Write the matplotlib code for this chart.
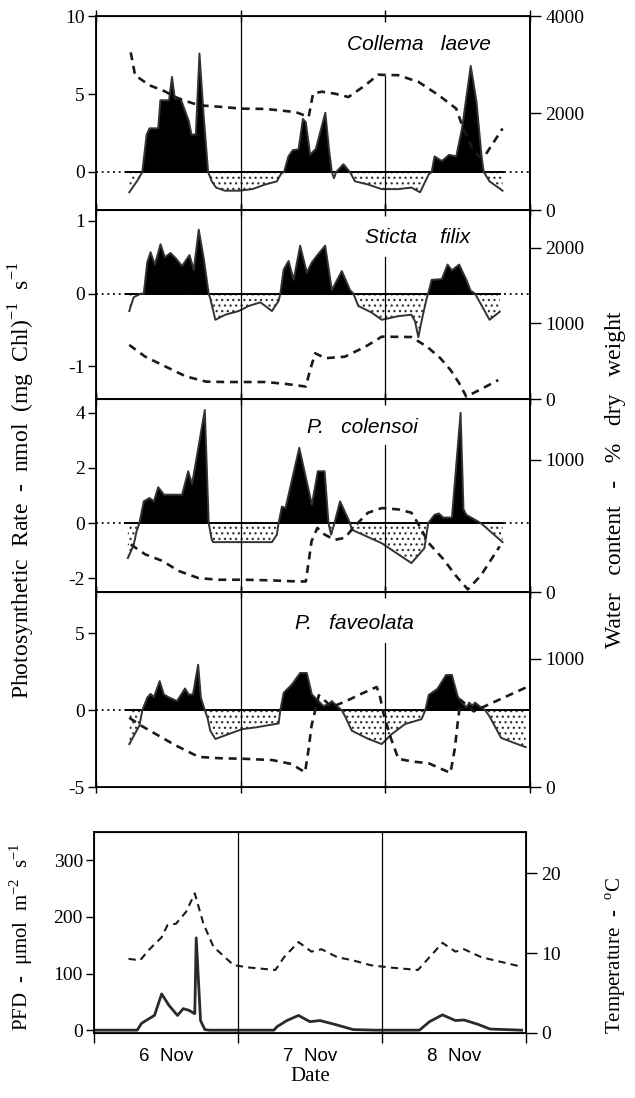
import numpy as np
import matplotlib.pyplot as plt

plt.rcParams['axes.unicode_minus'] = False
plt.rcParams['hatch.linewidth'] = 0.9
SERIF = 'Liberation Serif'
SANS = 'Liberation Sans'

# ---- Collema laeve ----
c_t = [0.23, 0.29, 0.32, 0.35, 0.37, 0.43, 0.445, 0.505, 0.525, 0.545, 0.585, 0.64, 0.66, 0.69,
       0.715, 0.745, 0.775, 0.80, 0.83, 0.89, 0.99, 1.08, 1.17, 1.25, 1.28, 1.30, 1.33, 1.36, 1.40,
       1.43, 1.45, 1.48, 1.52, 1.585, 1.61, 1.63, 1.645, 1.66, 1.71, 1.755, 1.79, 1.88, 1.975, 2.09,
       2.18, 2.24, 2.30, 2.32, 2.34, 2.39, 2.44, 2.49, 2.53, 2.59, 2.63, 2.665, 2.68, 2.72, 2.81]
c_p = [-1.3, -0.5, 0.0, 2.4, 2.8, 2.8, 4.6, 4.6, 6.1, 4.7, 4.7, 3.3, 2.4, 2.4,
       7.6, 3.5, 0.0, -0.6, -1.0, -1.2, -1.2, -1.1, -0.8, -0.6, -0.1, 0.0, 1.0, 1.4, 1.45,
       3.4, 3.2, 1.1, 1.5, 3.8, 1.5, 0.0, -0.4, 0.0, 0.5, 0.0, -0.6, -0.8, -1.1, -1.1,
       -1.0, -1.3, -0.15, 0.0, 1.0, 0.7, 1.1, 1.0, 2.8, 6.8, 4.5, 1.0, 0.0, -0.6, -1.2]
cw_t = [0.24, 0.27, 0.37, 0.46, 0.57, 0.71, 0.85, 1.01, 1.17, 1.38, 1.47, 1.50, 1.56, 1.65,
        1.745, 1.86, 1.95, 2.09, 2.23, 2.37, 2.49, 2.53, 2.57, 2.60, 2.66, 2.69, 2.81]
cw = [3250, 2780, 2570, 2470, 2300, 2160, 2130, 2090, 2085, 2020, 1920, 2400, 2440, 2400,
      2330, 2570, 2790, 2780, 2640, 2365, 2090, 1750, 1480, 1270, 1070, 1130, 1680]

# ---- Sticta filix ----
s_t = [0.23, 0.26, 0.31, 0.33, 0.354, 0.377, 0.407, 0.446, 0.476, 0.515, 0.554, 0.595, 0.646,
       0.676, 0.71, 0.745, 0.779, 0.79, 0.825, 0.894, 0.986, 1.055, 1.136, 1.216, 1.262, 1.274,
       1.297, 1.331, 1.366, 1.411, 1.457, 1.492, 1.526, 1.584, 1.63, 1.699, 1.756, 1.779, 1.813,
       1.905, 1.975, 2.09, 2.18, 2.205, 2.228, 2.25, 2.285, 2.296, 2.32, 2.39, 2.43, 2.46, 2.51,
       2.56, 2.59, 2.62, 2.72, 2.79]
s_p = [-0.24, -0.05, 0.0, 0.0, 0.43, 0.57, 0.40, 0.68, 0.50, 0.56, 0.48, 0.38, 0.53,
       0.33, 0.88, 0.48, 0.0, -0.07, -0.36, -0.29, -0.24, -0.17, -0.12, -0.24, -0.10, 0.0,
       0.33, 0.45, 0.19, 0.66, 0.29, 0.43, 0.52, 0.66, 0.05, 0.31, 0.05, 0.0, -0.17,
       -0.26, -0.36, -0.31, -0.29, -0.38, -0.6, -0.38, -0.07, 0.0, 0.19, 0.2, 0.40, 0.32, 0.40,
       0.19, 0.04, 0.0, -0.36, -0.25]
sw_t = [0.23, 0.34, 0.48, 0.62, 0.76, 0.89, 1.17, 1.31, 1.45, 1.48, 1.515, 1.585, 1.72, 1.86,
        1.975, 2.18, 2.29, 2.38, 2.45, 2.51, 2.56, 2.65, 2.78]
sw = [715, 560, 430, 300, 230, 225, 225, 200, 165, 385, 605, 540, 560, 690,
      825, 820, 690, 540, 385, 210, 30, 120, 250]

# ---- P. colensoi ----
p_t = [0.22, 0.26, 0.28, 0.30, 0.33, 0.37, 0.40, 0.43, 0.47, 0.595, 0.637, 0.664, 0.752, 0.779,
       0.80, 0.81, 1.216, 1.25, 1.262, 1.285, 1.31, 1.405, 1.492, 1.533, 1.58, 1.607, 1.625,
       1.648, 1.687, 1.756, 1.768, 1.975, 2.18, 2.27, 2.296, 2.34, 2.37, 2.40, 2.46, 2.52, 2.54,
       2.56, 2.66, 2.81]
p_p = [-1.27, -0.8, -0.3, 0.0, 0.79, 0.91, 0.79, 1.3, 1.03, 1.03, 1.88, 1.42, 4.1, 0.0,
       -0.6, -0.69, -0.69, -0.42, 0.0, 0.6, 0.55, 2.73, 0.67, 1.88, 1.88, 0.0, -0.42,
       0.0, 0.79, 0.0, -0.24, -0.73, -1.45, -0.91, 0.0, 0.3, 0.35, 0.2, 0.2, 4.0, 0.5,
       0.3, 0.0, -0.69]
pw_t = [0.24, 0.34, 0.46, 0.57, 0.71, 0.85, 1.03, 1.22, 1.39, 1.45, 1.47, 1.49, 1.53, 1.58,
        1.65, 1.72, 1.79, 1.88, 1.975, 2.09, 2.18, 2.23, 2.30, 2.40, 2.49, 2.57, 2.66, 2.79]
pw = [360, 285, 235, 160, 105, 93, 93, 88, 80, 80, 230, 385, 485, 435,
      395, 410, 500, 600, 635, 625, 600, 510, 370, 250, 120, 20, 125, 345]

# ---- P. faveolata ----
f_t = [0.23, 0.30, 0.32, 0.354, 0.377, 0.40, 0.44, 0.469, 0.50, 0.56, 0.615, 0.641, 0.67, 0.706,
       0.725, 0.752, 0.77, 0.79, 0.825, 0.917, 1.009, 1.101, 1.262, 1.274, 1.297, 1.354, 1.411,
       1.457, 1.492, 1.538, 1.572, 1.607, 1.63, 1.665, 1.699, 1.72, 1.768, 1.883, 1.975, 2.044,
       2.136, 2.25, 2.276, 2.30, 2.36, 2.42, 2.46, 2.50, 2.53, 2.56, 2.58, 2.60, 2.62, 2.66,
       2.69, 2.72, 2.80, 2.94, 2.97]
f_p = [-2.2, -1.0, 0.0, 0.82, 1.07, 0.86, 1.9, 1.03, 0.86, 0.6, 1.42, 1.03, 1.03, 2.97,
       0.82, 0.0, -0.47, -1.33, -1.87, -1.55, -1.23, -1.12, -0.86, 0.0, 1.14, 1.68, 2.43,
       2.43, 1.03, 0.6, 0.28, 0.39, 0.6, 0.28, 0.0, -0.37, -1.33, -1.87, -2.2, -1.55,
       -0.9, -0.58, 0.0, 1.0, 1.4, 2.3, 2.3, 0.9, 0.5, 0.2, 0.5, 0.3, 0.5, 0.2,
       0.0, -0.4, -1.8, -2.3, -2.4]
fw_t = [0.23, 0.31, 0.41, 0.55, 0.71, 0.85, 1.03, 1.22, 1.35, 1.445, 1.47, 1.49, 1.54, 1.63,
        1.72, 1.84, 1.94, 1.96, 1.99, 2.04, 2.09, 2.18, 2.30, 2.45, 2.48, 2.50, 2.52, 2.61, 2.97]
fw = [540, 480, 415, 325, 235, 225, 220, 210, 180, 115, 300, 480, 715, 625,
      665, 730, 780, 720, 560, 375, 220, 200, 185, 110, 300, 500, 680, 590, 775]

# ---- PFD and temperature ----
pfd_t = [0.0, 0.30, 0.33, 0.38, 0.42, 0.47, 0.52, 0.58, 0.62, 0.66, 0.70, 0.71, 0.74, 0.77, 0.80,
         1.25, 1.27, 1.34, 1.42, 1.50, 1.57, 1.69, 1.80, 1.96, 2.26, 2.33, 2.42, 2.51, 2.57,
         2.67, 2.75, 2.97]
pfd = [0, 0, 12, 20, 26, 64, 44, 26, 38, 35, 29, 163, 17, 1, 0,
       0, 6, 17, 26, 15, 17, 9, 1, 0, 0, 15, 27, 17, 18,
       10, 2, 0]
tmp_t = [0.24, 0.32, 0.38, 0.47, 0.51, 0.57, 0.64, 0.70, 0.76, 0.83, 0.97, 1.08, 1.26, 1.32,
         1.42, 1.51, 1.58, 1.69, 1.80, 1.92, 2.06, 2.25, 2.42, 2.51, 2.57, 2.69, 2.97]
tmp = [9.3, 9.1, 10.4, 12.0, 13.5, 13.7, 15.2, 17.5, 13.7, 10.8, 8.5, 8.2, 7.9, 9.5,
       11.4, 10.2, 10.5, 9.5, 9.1, 8.5, 8.2, 7.9, 11.3, 10.2, 10.5, 9.5, 8.3]

days = ['6  Nov', '7  Nov', '8  Nov']

panels = [
    ('Collema   laeve', c_t, c_p, cw_t, cw, (-2.44, 10.0), [0, 5, 10], (0, 4000), [0, 2000, 4000],
     [0.1512, 0.8087, 0.6835, 0.1767], (0.745, 0.855), 0.69, None),
    ('Sticta    filix', s_t, s_p, sw_t, sw, (-1.45, 1.15), [-1, 0, 1], (0, 2500), [0, 1000, 2000],
     [0.1512, 0.6366, 0.6835, 0.1721], (0.74, 0.855), 0.75, None),
    ('P.   colensoi', p_t, p_p, pw_t, pw, (-2.5, 4.5), [-2, 0, 2, 4], (0, 1460), [0, 1000],
     [0.1512, 0.4608, 0.6835, 0.1758], (0.615, 0.855), 0.76, None),
    ('P.   faveolata', f_t, f_p, fw_t, fw, (-5, 7.7), [-5, 0, 5], (0, 1520), [0, 1000],
     [0.1512, 0.2832, 0.6835, 0.1776], (0.595, 0.84), 0.74, 3.0),
]

fig = plt.figure(figsize=(6.35, 10.98), dpi=100)

for name, t, p, wt, w, ylim, yt, wlim, wtk, pos, tpos, vfrac, base_end in panels:
    ax = fig.add_axes(pos)
    t = np.array(t)
    p = np.array(p)
    ax.axhline(0, color='k', lw=1.2, ls=(0, (1.2, 2.2)))
    end = t[-1] if base_end is None else base_end
    ax.plot([t[0] - 0.02, end], [0, 0], color='k', lw=1.4)
    ax.fill_between(t, p, 0, where=p >= 0, interpolate=True, color='k', lw=0)
    ax.fill_between(t, p, 0, where=p <= 0, interpolate=True, facecolor='white',
                    edgecolor='#333333', hatch='...', lw=0)
    ax.plot(t, p, color='#333333', lw=1.4)
    ax.axvline(1, color='k', lw=0.9)
    ax.axvline(2, ymin=0, ymax=vfrac, color='k', lw=0.9)
    ax.set_xlim(0, 3)
    ax.set_ylim(*ylim)
    ax.set_yticks(yt)
    ax.set_yticklabels([str(v) for v in yt], fontfamily=SERIF, fontsize=14)
    ax.set_xticks([0, 1, 2, 3])
    ax.tick_params(axis='x', direction='inout', length=8, top=True, labelbottom=False, width=1)
    ax.tick_params(axis='y', direction='out', length=6, width=1, pad=2)
    for s in ax.spines.values():
        s.set_linewidth(1.3)
    ax.text(tpos[0], tpos[1], name, transform=ax.transAxes, ha='center', va='center',
            fontfamily=SANS, fontstyle='italic', fontsize=15)
    ax2 = ax.twinx()
    ax2.plot(wt, w, color='#1a1a1a', lw=1.9, ls=(0, (3.0, 2.2)))
    ax2.set_ylim(*wlim)
    ax2.set_yticks(wtk)
    ax2.set_yticklabels([str(v) for v in wtk], fontfamily=SERIF, fontsize=14)
    ax2.tick_params(axis='y', direction='out', length=8, width=1, pad=3)
    ax2.spines['right'].set_linewidth(1.3)

# bottom panel
ax = fig.add_axes([0.148, 0.0592, 0.6803, 0.1831])
ax.plot(pfd_t, pfd, color='#2a2a2a', lw=2.0)
ax.axvline(1, color='k', lw=0.9)
ax.axvline(2, color='k', lw=0.9)
ax.set_xlim(0, 3)
ax.set_ylim(-5, 350)
ax.set_yticks([0, 100, 200, 300])
ax.set_yticklabels(['0', '100', '200', '300'], fontfamily=SERIF, fontsize=14)
ax.set_xticks([0, 1, 2, 3])
ax.set_xticklabels([])
ax.set_xticks([0.5, 1.5, 2.5], minor=True)
ax.set_xticklabels(days, minor=True, fontfamily=SANS, fontsize=13.5)
ax.tick_params(axis='x', which='major', direction='out', length=7, width=1)
ax.tick_params(axis='x', which='minor', length=0, pad=11)
ax.tick_params(axis='y', direction='out', length=6, width=1, pad=2)
for s in ax.spines.values():
    s.set_linewidth(1.3)
ax.set_xlabel('Date', fontfamily=SERIF, fontsize=15, labelpad=1)
ax2 = ax.twinx()
ax2.plot(tmp_t, tmp, color='#1a1a1a', lw=1.5, ls=(0, (3.5, 2.5)))
ax2.set_ylim(0, 25.2)
ax2.set_yticks([0, 10, 20])
ax2.set_yticklabels(['0', '10', '20'], fontfamily=SERIF, fontsize=14)
ax2.tick_params(axis='y', direction='out', length=8, width=1, pad=3)

fig.text(0.034, 1 - 480 / 1098, r'Photosynthetic  Rate  -  nmol  (mg  Chl)$^{\mathregular{-1}}$  s$^{\mathregular{-1}}$',
         rotation=90, ha='center', va='center', fontfamily=SERIF, fontsize=17)
fig.text(0.970, 1 - 480 / 1098, 'Water   content   -   %   dry   weight',
         rotation=90, ha='center', va='center', fontfamily=SERIF, fontsize=17)
fig.text(0.034, 1 - 937 / 1098, r'PFD  -  $\mathregular{\mu}$mol  m$^{\mathregular{-2}}$  s$^{\mathregular{-1}}$',
         rotation=90, ha='center', va='center', fontfamily=SERIF, fontsize=15)
fig.text(0.970, 1 - 955 / 1098, r'Temperature  -  $^{\mathregular{o}}$C',
         rotation=90, ha='center', va='center', fontfamily=SERIF, fontsize=15)

fig.savefig('out.png', dpi=100)
